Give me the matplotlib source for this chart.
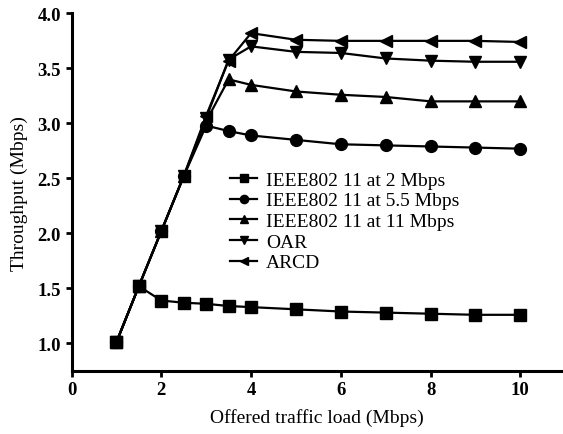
import matplotlib
matplotlib.use("Agg")
import matplotlib.pyplot as plt

# offered load (Mbps)
load = [1, 1.5, 2, 2.5, 3, 3.5, 4, 5, 6, 7, 8, 9, 10]

# throughput (Mbps)
ieee_2 = [1.01, 1.52, 1.39, 1.37, 1.36, 1.34, 1.33, 1.31, 1.29, 1.28, 1.27, 1.26, 1.26]
ieee_55 = [1.01, 1.52, 2.02, 2.52, 2.98, 2.93, 2.89, 2.85, 2.81, 2.80, 2.79, 2.78, 2.77]
ieee_11 = [1.01, 1.52, 2.02, 2.52, 3.02, 3.40, 3.35, 3.29, 3.26, 3.24, 3.20, 3.20, 3.20]
oar = [1.01, 1.52, 2.02, 2.52, 3.05, 3.58, 3.70, 3.65, 3.64, 3.59, 3.57, 3.56, 3.56]
arcd = [1.01, 1.52, 2.02, 2.52, 3.07, 3.57, 3.82, 3.76, 3.75, 3.75, 3.75, 3.75, 3.74]

labels = ["IEEE802 11 at 2 Mbps", "IEEE802 11 at 5.5 Mbps",
          "IEEE802 11 at 11 Mbps", "OAR", "ARCD"]
markers = ["s", "o", "^", "v", "<"]

plt.rcParams["font.family"] = ["Liberation Serif", "DejaVu Serif"]

fig = plt.figure(figsize=(5.63, 4.35), dpi=100)
ax = fig.add_axes([0.127, 0.145, 0.873, 0.822])

for ys, lab, m in zip([ieee_2, ieee_55, ieee_11, oar, arcd], labels, markers):
    ax.plot(load, ys, color="black", lw=1.6, marker=m, markersize=8.5,
            label=lab, solid_joinstyle="miter")

ax.set_xlim(0, 10.95)
ax.set_ylim(0.75, 4.0)
ax.set_xticks([0, 2, 4, 6, 8, 10])
ax.set_yticks([1.0, 1.5, 2.0, 2.5, 3.0, 3.5, 4.0])
ax.set_yticklabels(["1.0", "1.5", "2.0", "2.5", "3.0", "3.5", "4.0"])

for s in ["top", "right"]:
    ax.spines[s].set_visible(False)
for s in ["left", "bottom"]:
    ax.spines[s].set_linewidth(2.2)
ax.tick_params(direction="out", length=4, width=2, labelsize=13.5)
for t in ax.get_xticklabels() + ax.get_yticklabels():
    t.set_fontweight("bold")

ax.set_xlabel("Offered traffic load (Mbps)", fontsize=14, labelpad=7)
ax.set_ylabel("Throughput (Mbps)", fontsize=14, labelpad=7)

leg = ax.legend(loc="upper left", bbox_to_anchor=(230 / 563, 1 - 172 / 435),
                bbox_transform=fig.transFigure, frameon=False, fontsize=14,
                handlelength=1.4, handletextpad=0.45, labelspacing=0.16,
                markerscale=0.7, borderpad=0, borderaxespad=0)

fig.savefig("out.png", dpi=100)
